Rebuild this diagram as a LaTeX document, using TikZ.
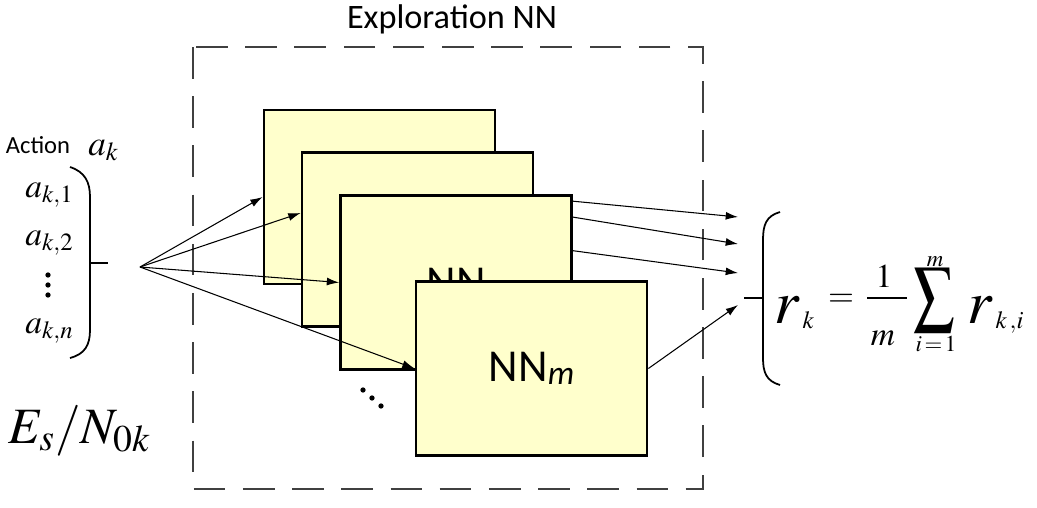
\documentclass[tikz,border=0pt]{standalone}
\usepackage{mathptmx}
\usepackage[no-math]{fontspec}
\setmainfont{Carlito}
\usetikzlibrary{arrows.meta,calc}
\definecolor{nnyellow}{RGB}{255,255,204}
\newcommand{\rbigsym}{\scalebox{1.85}{$r$}}
\tikzset{
  nnbox/.style={draw,line width=1.6pt,fill=nnyellow,minimum width=4.62cm,
    minimum height=3.48cm,inner sep=0pt,font=\fontsize{26}{28}\selectfont},
  link/.style={->,line width=0.6pt},
  mathlbl/.style={anchor=base west,inner sep=0pt},
  eqpart/.style={inner sep=0pt,font=\fontsize{19}{22}\selectfont},
  limpart/.style={inner sep=0pt,font=\fontsize{13}{15}\selectfont},
}

\begin{document}
\begin{tikzpicture}[x=0.02cm,y=-0.02cm,>={Latex[length=7pt,width=4.5pt]}]
 \useasboundingbox (0,0) rectangle (1037,507);
 % exploration block
 \draw[dash pattern=on 18pt off 10pt,line width=0.8pt,black!75] (193,47) rectangle (703,489);
 \node[font=\fontsize{19.5}{21}\selectfont] (title) at (452,19) {Exploration NN};
 \node[nnbox] (nn1) at (379.5,197) {};
 \node[nnbox] (nn2) at (417.5,239.5) {};
 \node[nnbox] (nn3) at (456,282.5) {NN};
 \node[nnbox] (nn4) at (531.5,368.5) {NN\raisebox{-1.5pt}{\fontsize{19}{19}\selectfont\itshape m}};
 \fill (363,390) circle (1.5pt) (372,398) circle (1.5pt) (381,406) circle (1.5pt);
 % inputs
 \node[font=\fontsize{14}{16}\selectfont] (act) at (38,145) {Action};
 \node[mathlbl,font=\fontsize{20}{22}\selectfont] (ak) at (88,155) {$a_k$};
 \node[mathlbl,font=\fontsize{19}{21}\selectfont] (ak1) at (25,197) {$a_{k,1}$};
 \node[mathlbl,font=\fontsize{19}{21}\selectfont] (ak2) at (25,245) {$a_{k,2}$};
 \fill (48,275) circle (1.5pt) (48,285) circle (1.5pt) (48,295) circle (1.5pt);
 \node[mathlbl,font=\fontsize{19}{21}\selectfont] (akn) at (25,333) {$a_{k,n}$};
 \draw[line width=1pt] (70,167) .. controls (85,172) and (90,182) .. (90,197) -- (90,330)
   .. controls (90,345) and (85,354) .. (70,358);
 \draw[line width=1pt] (90,263) -- (108,263);
 \node[mathlbl,font=\fontsize{29}{31}\selectfont] (snr) at (8,443) {$E_s/N_{0k}$};
 \coordinate (fan) at (140,267);
 \draw[link] (fan) -- (nn1.west);
 \draw[link] (fan) -- ($(nn2.north west)!0.35!(nn2.south west)$);
 \draw[link] (fan) -- (nn3.west);
 \draw[link] (fan) -- (nn4.west);
 % outputs
 \coordinate (o1) at (738,217);
 \coordinate (o2) at (738,244);
 \coordinate (o3) at (738,273);
 \coordinate (o4) at (738,305);
 \draw[link] ($(nn3.north east)!0.04!(nn3.south east)$) -- (o1);
 \draw[link] ($(nn3.north east)!0.13!(nn3.south east)$) -- (o2);
 \draw[link] ($(nn3.north east)!0.32!(nn3.south east)$) -- (o3);
 \draw[link] (nn4.east) -- (o4);
 \draw[line width=1pt] (780,212) .. controls (766,216) and (763,225) .. (763,240) -- (763,358)
   .. controls (763,372) and (766,381) .. (780,385);
 \draw[line width=1pt] (744,298) -- (763,298);
 % mean reward
 \node[eqpart,anchor=base west] (rk) at (774,323) {$\rbigsym_{\,k}$};
 \node[eqpart] (eq) at (841,300) {$=$};
 \node[eqpart] (num) at (884,276) {$1$};
 \node[eqpart] (den) at (883,338) {$m$};
 \draw[line width=0.9pt] (867,298) -- (907,298);
 \node[eqpart,font=\fontsize{22}{24}\selectfont] (sum) at (934,300)
   {\scalebox{1.05}[1.35]{$\displaystyle\sum$}};
 \node[limpart] (sumtop) at (935,262) {$m$};
 \node[limpart] (sumbot) at (936,344) {$i\!=\!1$};
 \node[eqpart,anchor=base west] (rki) at (967,323) {$\rbigsym_{\,k\,,i}$};
\end{tikzpicture}
\end{document}
